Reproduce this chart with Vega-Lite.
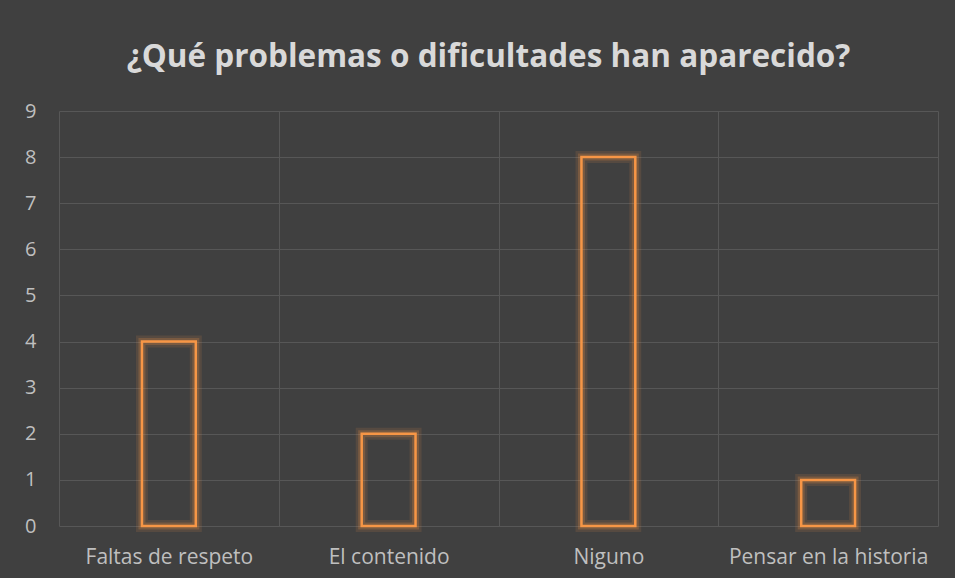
{
  "$schema": "https://vega.github.io/schema/vega-lite/v6.json",
  "width": 879,
  "height": 415,
  "autosize": "none",
  "padding": {"left": 59, "top": 111, "right": 17, "bottom": 52},
  "background": "#404040",
  "config": {
    "view": {"stroke": null},
    "font": "Open Sans"
  },
  "title": {
    "text": "¿Qué problemas o dificultades han aparecido?",
    "font": "Open Sans",
    "fontSize": 31.5,
    "fontWeight": "bold",
    "color": "#d9d9d9",
    "anchor": "middle",
    "dx": -10,
    "offset": 28
  },
  "data": {
    "values": [
      {"categoria": "Faltas de respeto", "valor": 4},
      {"categoria": "El contenido", "valor": 2},
      {"categoria": "Niguno", "valor": 8},
      {"categoria": "Pensar en la historia", "valor": 1}
    ]
  },
  "encoding": {
    "x": {
      "field": "categoria",
      "type": "nominal",
      "sort": null,
      "scale": {"paddingInner": 0, "paddingOuter": 0},
      "axis": {
        "title": null,
        "labelAngle": 0,
        "labelFontSize": 21,
        "labelColor": "#bfbfbf",
        "labelPadding": 20,
        "labelLimit": 400,
        "domain": false,
        "ticks": false,
        "grid": true,
        "tickBand": "extent",
        "gridColor": "#575757",
        "gridWidth": 1
      }
    },
    "y": {
      "field": "valor",
      "type": "quantitative",
      "scale": {"domain": [0, 9], "nice": false},
      "axis": {
        "title": null,
        "values": [0, 1, 2, 3, 4, 5, 6, 7, 8, 9],
        "labelFontSize": 20,
        "labelColor": "#bfbfbf",
        "labelPadding": 23,
        "domain": false,
        "ticks": false,
        "grid": true,
        "gridColor": "#575757",
        "gridWidth": 1
      }
    }
  },
  "layer": [
    {
      "mark": {"type": "bar", "width": {"band": 0.245}, "fill": null, "fillOpacity": 0, "stroke": "#f79646", "strokeWidth": 12, "strokeOpacity": 0.12}
    },
    {
      "mark": {"type": "bar", "width": {"band": 0.245}, "fill": null, "fillOpacity": 0, "stroke": "#f79646", "strokeWidth": 7, "strokeOpacity": 0.22}
    },
    {
      "mark": {"type": "bar", "width": {"band": 0.245}, "fill": null, "fillOpacity": 0, "stroke": "#f79646", "strokeWidth": 2.5, "strokeOpacity": 1}
    }
  ]
}
